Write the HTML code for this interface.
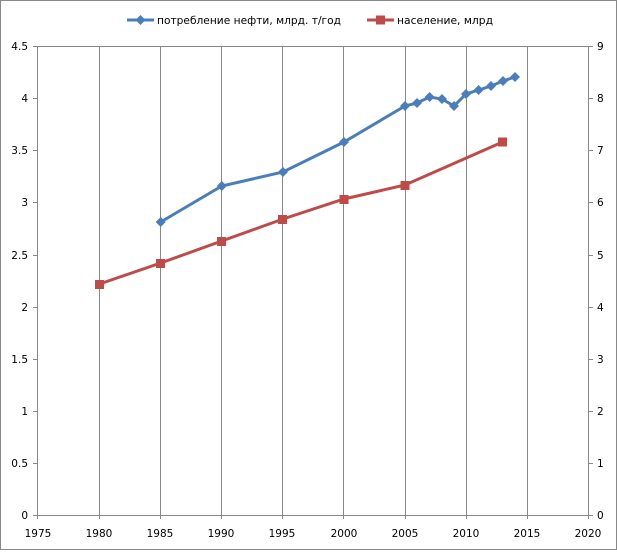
<!DOCTYPE html>
<html><head><meta charset="utf-8"><style>body{margin:0;background:#fff}</style></head><body>
<svg width="617" height="550" xmlns="http://www.w3.org/2000/svg" font-family="DejaVu Sans, Liberation Sans, sans-serif" font-size="10.5">
<rect x="0.5" y="0.5" width="616" height="549" fill="#fff" stroke="#888"/>
<g stroke="#888" stroke-width="1">
<line x1="99.5" y1="46" x2="99.5" y2="519"/><line x1="160.5" y1="46" x2="160.5" y2="519"/><line x1="221.5" y1="46" x2="221.5" y2="519"/><line x1="282.5" y1="46" x2="282.5" y2="519"/><line x1="343.5" y1="46" x2="343.5" y2="519"/><line x1="405.5" y1="46" x2="405.5" y2="519"/><line x1="466.5" y1="46" x2="466.5" y2="519"/><line x1="527.5" y1="46" x2="527.5" y2="519"/>
<line x1="37.5" y1="46" x2="37.5" y2="519"/><line x1="588.5" y1="46" x2="588.5" y2="519"/>
<line x1="33" y1="46.5" x2="593" y2="46.5"/><line x1="33" y1="515.5" x2="593" y2="515.5"/>
<line x1="33" y1="98.5" x2="37" y2="98.5"/><line x1="33" y1="150.5" x2="37" y2="150.5"/><line x1="33" y1="202.5" x2="37" y2="202.5"/><line x1="33" y1="255.5" x2="37" y2="255.5"/><line x1="33" y1="307.5" x2="37" y2="307.5"/><line x1="33" y1="359.5" x2="37" y2="359.5"/><line x1="33" y1="411.5" x2="37" y2="411.5"/><line x1="33" y1="463.5" x2="37" y2="463.5"/>
<line x1="589" y1="98.5" x2="593" y2="98.5"/><line x1="589" y1="150.5" x2="593" y2="150.5"/><line x1="589" y1="202.5" x2="593" y2="202.5"/><line x1="589" y1="255.5" x2="593" y2="255.5"/><line x1="589" y1="307.5" x2="593" y2="307.5"/><line x1="589" y1="359.5" x2="593" y2="359.5"/><line x1="589" y1="411.5" x2="593" y2="411.5"/><line x1="589" y1="463.5" x2="593" y2="463.5"/>
</g>
<g fill="#000" text-anchor="end">
<text x="28" y="50">4.5</text><text x="28" y="102">4</text><text x="28" y="154">3.5</text><text x="28" y="206">3</text><text x="28" y="259">2.5</text><text x="28" y="311">2</text><text x="28" y="363">1.5</text><text x="28" y="415">1</text><text x="28" y="467">0.5</text><text x="28" y="519">0</text>
</g>
<g fill="#000" text-anchor="start">
<text x="597" y="50">9</text><text x="597" y="102">8</text><text x="597" y="154">7</text><text x="597" y="206">6</text><text x="597" y="259">5</text><text x="597" y="311">4</text><text x="597" y="363">3</text><text x="597" y="415">2</text><text x="597" y="467">1</text><text x="597" y="519">0</text>
</g>
<g fill="#000" text-anchor="middle">
<text x="38" y="537">1975</text><text x="99" y="537">1980</text><text x="160" y="537">1985</text><text x="221" y="537">1990</text><text x="282" y="537">1995</text><text x="344" y="537">2000</text><text x="405" y="537">2005</text><text x="466" y="537">2010</text><text x="527" y="537">2015</text><text x="588" y="537">2020</text>
</g>
<polyline fill="none" stroke="#4a7ebb" stroke-width="3" points="160.7,222 221.8,186 283,172 344,142 405,106 417,103 429.6,97 442,99 454,106 466,94 478.6,90 491,86 503,81 515,77"/>
<g fill="#4a7ebb">
<path d="M160.7,217l5,5-5,5-5-5z"/><path d="M221.8,181l5,5-5,5-5-5z"/><path d="M283,167l5,5-5,5-5-5z"/><path d="M344,137l5,5-5,5-5-5z"/><path d="M405,101l5,5-5,5-5-5z"/><path d="M417,98l5,5-5,5-5-5z"/><path d="M429.6,92l5,5-5,5-5-5z"/><path d="M442,94l5,5-5,5-5-5z"/><path d="M454,101l5,5-5,5-5-5z"/><path d="M466,89l5,5-5,5-5-5z"/><path d="M478.6,85l5,5-5,5-5-5z"/><path d="M491,81l5,5-5,5-5-5z"/><path d="M503,76l5,5-5,5-5-5z"/><path d="M515,72l5,5-5,5-5-5z"/>
</g>
<polyline fill="none" stroke="#be4b48" stroke-width="3" points="99.5,284 160.7,263 221.8,241 283,219 344,199 405,185 502.6,142"/>
<g fill="#be4b48">
<rect x="95" y="280" width="9" height="9"/><rect x="156" y="259" width="9" height="9"/><rect x="217" y="237" width="9" height="9"/><rect x="278" y="215" width="9" height="9"/><rect x="339.5" y="195" width="9" height="9"/><rect x="400.5" y="181" width="9" height="9"/><rect x="498" y="137.5" width="9" height="9"/>
</g>
<line x1="127" y1="20" x2="154" y2="20" stroke="#4a7ebb" stroke-width="3"/><path d="M140.5,15l5,5-5,5-5-5z" fill="#4a7ebb"/>
<text x="157" y="24" fill="#000" textLength="184" lengthAdjust="spacingAndGlyphs">потребление нефти, млрд. т/год</text>
<line x1="367" y1="20" x2="394" y2="20" stroke="#be4b48" stroke-width="3"/><rect x="376" y="15.5" width="9" height="9" fill="#be4b48"/>
<text x="397" y="24" fill="#000" textLength="96" lengthAdjust="spacingAndGlyphs">население, млрд</text>
</svg>
</body></html>
